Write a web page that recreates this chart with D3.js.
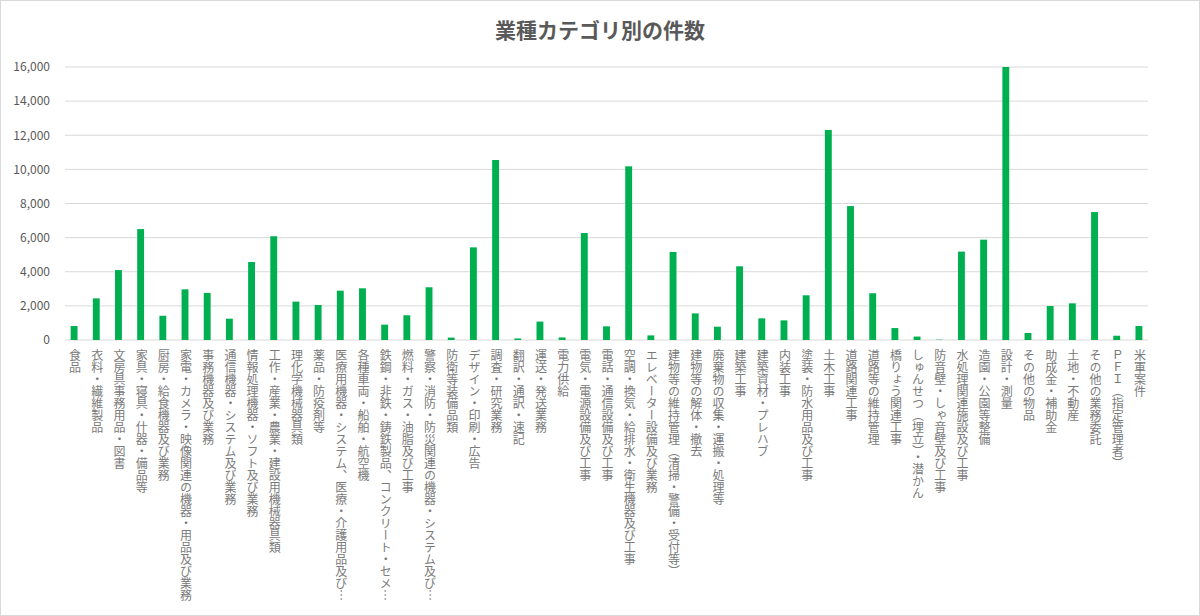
<!DOCTYPE html>
<html><head><meta charset="utf-8">
<script src="https://cdn.jsdelivr.net/npm/d3@7"></script>
<style>
html,body{margin:0;padding:0;background:#fff;}
svg{display:block;font-family:"Noto Sans CJK JP","Noto Sans",sans-serif;}
</style></head>
<body>
<svg id="chart" width="1200" height="616"></svg>
<script>
const title = "業種カテゴリ別の件数";
const categories = [
"食品","衣料・繊維製品","文房具事務用品・図書","家具・寝具・什器・備品等","厨房・給食機器及び業務",
"家電・カメラ・映像関連の機器・用品及び業務","事務機器及び業務","通信機器・システム及び業務","情報処理機器・ソフト及び業務",
"工作・産業・農業・建設用機械器具類","理化学機械器具類","薬品・防疫剤等","医療用機器・システム、医療・介護用品及び…",
"各種車両・船舶・航空機","鉄鋼・非鉄・鋳鉄製品、コンクリート・セメ…","燃料・ガス・油脂及び工事","警察・消防・防災関連の機器・システム及び…",
"防衛等装備品類","デザイン・印刷・広告","調査・研究業務","翻訳・通訳・速記","運送・発送業務","電力供給",
"電気・電源設備及び工事","電話・通信設備及び工事","空調・換気・給排水・衛生機器及び工事","エレベーター設備及び業務",
"建物等の維持管理（清掃・警備・受付等）","建物等の解体・撤去","廃棄物の収集・運搬・処理等","建築工事","建築資材・プレハブ",
"内装工事","塗装・防水用品及び工事","土木工事","道路関連工事","道路等の維持管理","橋りょう関連工事","しゅんせつ（埋立）・潜かん",
"防音壁・しゃ音壁及び工事","水処理関連施設及び工事","造園・公園等整備","設計・測量","その他の物品","助成金・補助金","土地・不動産",
"その他の業務委託","ＰＦＩ（指定管理者）","米軍案件"
];
const values = [
820,2440,4100,6500,1420,2970,2760,1250,4570,6080,2250,2050,2890,3030,900,1450,3090,140,5430,10550,90,1080,150,
6270,800,10180,270,5160,1560,780,4320,1270,1150,2620,12310,7850,2740,700,200,20,5180,5880,16000,410,1990,2150,7500,250,820
];
const yTicks = [0,2000,4000,6000,8000,10000,12000,14000,16000];

const svg = d3.select("#chart");
const W = 1200, H = 616;
const x = d3.scaleBand().domain(categories).range([63, 1150]).paddingInner(0.69).paddingOuter(0.345);
const y = d3.scaleLinear().domain([0,16000]).range([340, 67]);

svg.append("rect").attr("x",0.5).attr("y",0.5).attr("width",W-1).attr("height",H-1)
  .attr("fill","#fff").attr("stroke","#d9d9d9");

svg.append("text").attr("x",600).attr("y",38).attr("text-anchor","middle")
  .attr("font-size",21).attr("font-weight","bold").attr("fill","#595959").text(title);

const ga = svg.append("g").attr("transform","translate(65,0)")
  .call(d3.axisLeft(y).tickValues(yTicks).tickFormat(d3.format(",")).tickSize(0).tickPadding(15));
ga.select(".domain").remove();
ga.selectAll("text").attr("font-size",12).attr("fill","#595959").attr("font-family","'Noto Sans CJK JP',sans-serif");

svg.append("g").selectAll("line").data(yTicks).join("line")
  .attr("x1",65).attr("x2",1148).attr("y1",d=>y(d)).attr("y2",d=>y(d))
  .attr("stroke","#d9d9d9").attr("stroke-width",1);

svg.append("g").selectAll("rect").data(values).join("rect")
  .attr("x",(d,i)=>x(categories[i])).attr("width",x.bandwidth())
  .attr("y",d=>y(d)).attr("height",d=>y(0)-y(d)).attr("fill","#00b050");

svg.append("g").selectAll("text").data(categories).join("text")
  .attr("x",d=>x(d)+x.bandwidth()/2+1).attr("y",349)
  .style("writing-mode","vertical-rl")
  .attr("font-size",12).attr("fill","#7a7a7a")
  .text(d=>d);
</script>
</body></html>
